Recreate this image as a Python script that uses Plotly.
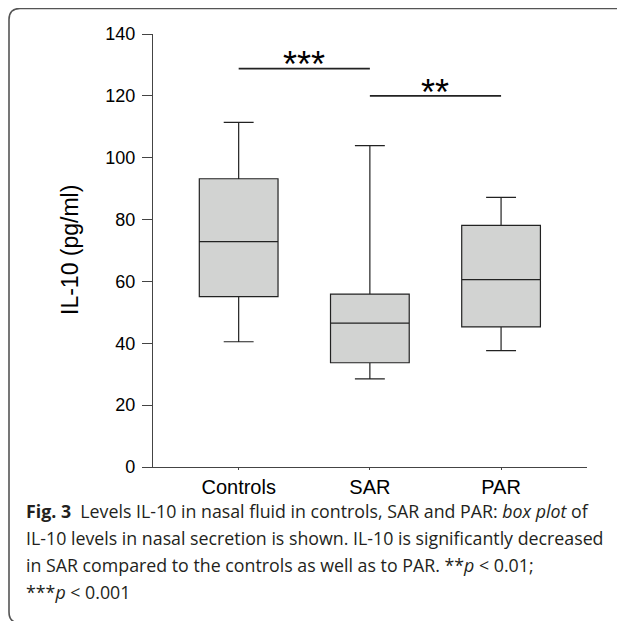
import plotly.graph_objects as go

categories = ["Controls", "SAR", "PAR"]
lower_whisker = [40.5, 28.5, 37.6]
q1 = [55.1, 33.7, 45.3]
median = [72.9, 46.5, 60.6]
q3 = [93.2, 55.9, 78.1]
upper_whisker = [111.4, 103.9, 87.2]

y_ticks = [0, 20, 40, 60, 80, 100, 120, 140]
sig_pairs = [(0, 1), (1, 2)]
sig_levels = [128.8, 120.0]
sig_labels = ["***", "**"]
sig_label_y = [130.0, 121.1]

caption_lines = [
    "<b>Fig. 3</b>  Levels IL-10 in nasal fluid in controls, SAR and PAR: <i>box plot</i> of",
    "IL-10 levels in nasal secretion is shown. IL-10 is significantly decreased",
    "in SAR compared to the controls as well as to PAR. **<i>p</i> &lt; 0.01;",
    "***<i>p</i> &lt; 0.001",
]
caption_y_px = [511, 538, 565, 592]

# page has an 8px body margin, so the figure is laid out in page pixels minus 8
OFF = 8
W, H = 625 - OFF, 621 - OFF
L, R, T, B = 153 - OFF, 38, 34 - OFF, 154
pw, ph = W - L - R, H - T - B


def px_x(px):
    return (px - OFF - L) / pw


def px_y(py):
    return (H - B - (py - OFF)) / ph


fig = go.Figure()
fig.add_trace(go.Box(
    x=categories, q1=q1, median=median, q3=q3,
    lowerfence=lower_whisker, upperfence=upper_whisker,
    fillcolor="#d2d3d2", line=dict(color="#222222", width=1.2),
    width=0.6, whiskerwidth=0.38, boxpoints=False, hoverinfo="skip",
    showlegend=False,
))

for (a, b), lvl in zip(sig_pairs, sig_levels):
    fig.add_shape(type="line", xref="x", yref="y", x0=a, x1=b, y0=lvl, y1=lvl,
                  line=dict(color="#222222", width=1.6))
for (a, b), lab, ly in zip(sig_pairs, sig_labels, sig_label_y):
    fig.add_annotation(x=(a + b) / 2, y=ly, xref="x", yref="y", text=lab,
                       showarrow=False, font=dict(size=36, color="#000000",
                                                  family="Liberation Sans"))

fig.add_annotation(x=px_x(70), y=px_y(250), xref="paper", yref="paper",
                   xanchor="center", yanchor="middle",
                   text="IL-10 (pg/ml)", textangle=-90, showarrow=False,
                   font=dict(size=23, color="#000000", family="Liberation Sans"))

for line, ypx in zip(caption_lines, caption_y_px):
    fig.add_annotation(x=px_x(24), y=px_y(ypx), xref="paper", yref="paper",
                       xanchor="left", yanchor="middle", text=line, showarrow=False,
                       align="left",
                       font=dict(size=17.8, color="#231f20", family="Open Sans"))

# rounded frame around the figure panel
fx, fy, r = px_x(9), px_y(8.5), 11
path = (f"M {px_x(640)},{fy} L {px_x(9 + r)},{fy} "
        f"Q {fx},{fy} {fx},{px_y(8.5 + r)} "
        f"L {fx},{px_y(612)} Q {fx},{px_y(623)} {px_x(20)},{px_y(623)} "
        f"L {px_x(640)},{px_y(623)}")
fig.add_shape(type="path", xref="paper", yref="paper", path=path,
              line=dict(color="#555555", width=1.6))

fig.update_layout(
    width=W, height=H, margin=dict(l=L, r=R, t=T, b=B),
    paper_bgcolor="white", plot_bgcolor="white",
    font=dict(family="Liberation Sans", color="#000000"),
    xaxis=dict(range=[-0.653, 2.655], showgrid=False, zeroline=False,
               showline=True, linecolor="#444444", linewidth=1.4,
               ticks="outside", ticklen=2, tickcolor="#444444",
               tickfont=dict(size=20), ticklabelstandoff=0),
    yaxis=dict(range=[0, 140], tickvals=y_ticks, showgrid=False, zeroline=False,
               showline=True, linecolor="#444444", linewidth=1.4,
               ticks="outside", ticklen=10, tickcolor="#444444",
               tickfont=dict(size=18), ticklabelstandoff=3),
)

fig.write_html("out.html")
